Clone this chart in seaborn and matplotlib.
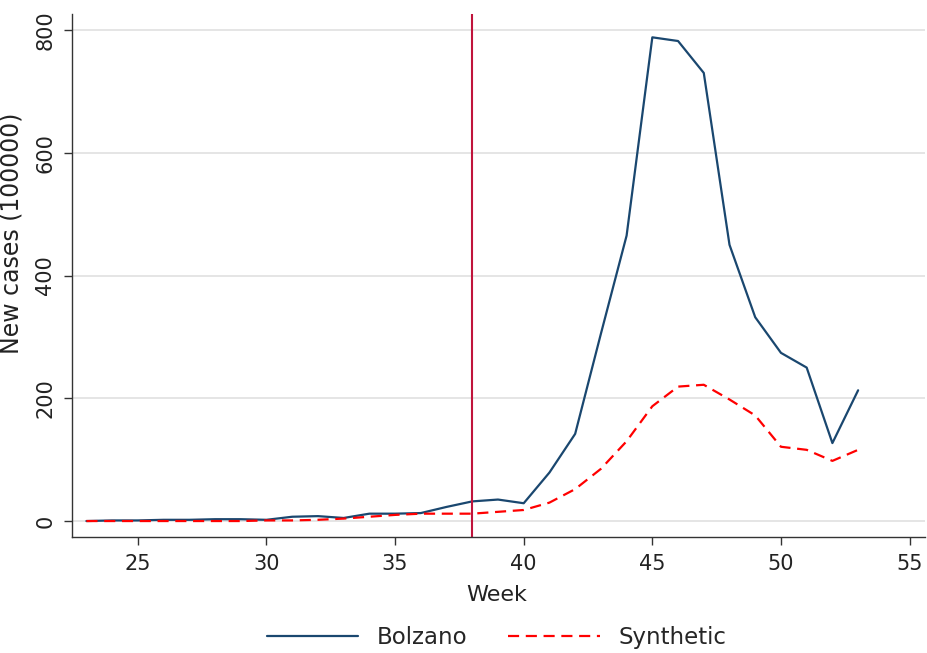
import matplotlib
matplotlib.use("Agg")
import matplotlib.pyplot as plt
import seaborn as sns
import pandas as pd
from matplotlib.lines import Line2D

weeks = list(range(23, 54))
bolzano = [0, 1, 1, 2, 2, 3, 3, 2, 7, 8, 5, 12, 12, 13, 23, 32, 35, 29,
           79, 142, 305, 465, 788, 782, 730, 450, 332, 274, 250, 127, 213]
synthetic = [0, 0, 0, 0, 0, 0, 0, 1, 1, 2, 4, 7, 10, 12, 12, 12, 15, 18,
             30, 52, 85, 130, 187, 219, 222, 198, 172, 121, 116, 98, 116]
treat_week = 38

df = pd.DataFrame({"Week": weeks * 2,
                   "value": bolzano + synthetic,
                   "series": ["Bolzano"] * len(weeks) + ["Synthetic"] * len(weeks)})

sns.set_theme(style="white")
plt.rcParams['font.family'] = ['DejaVu Sans']

fig = plt.figure(figsize=(9.28, 6.53), dpi=100)
ax = fig.add_axes([72/928, 1 - 537/653, (925-72)/928, (537-14)/653])

sns.lineplot(data=df, x="Week", y="value", hue="series", style="series",
             palette={"Bolzano": "#1a476f", "Synthetic": "#ff0000"},
             dashes={"Bolzano": "", "Synthetic": (5, 3)},
             linewidth=1.6, ax=ax, legend=False)
ax.axvline(treat_week, color="#c0143c", linewidth=1.5)

ax.set_xlim(22.44, 55.6)
ax.set_ylim(-26, 826)
ax.set_xticks([25, 30, 35, 40, 45, 50, 55])
ax.set_yticks([0, 200, 400, 600, 800])
ax.yaxis.grid(True, color="#e0e0e0", linewidth=1.2)
ax.set_axisbelow(True)
for s in ["top", "right"]:
    ax.spines[s].set_visible(False)
for s in ["left", "bottom"]:
    ax.spines[s].set_color("#333333")
    ax.spines[s].set_linewidth(1.0)
ax.tick_params(axis="both", which="both", direction="out", length=6, width=1,
               color="#333333", labelsize=15, labelcolor="#222222", left=True, bottom=True,
               pad=6)
for lbl in ax.get_yticklabels():
    lbl.set_rotation(90)
    lbl.set_va("center")
ax.set_xlabel("Week", fontsize=16, color="#222222")
ax.xaxis.set_label_coords(0.498, -0.092)
ax.set_ylabel("New cases (100000)", fontsize=17, color="#222222")
ax.yaxis.set_label_coords(-0.057, 0.58)

handles = [Line2D([], [], color="#1a476f", lw=1.6),
           Line2D([], [], color="#ff0000", lw=1.6, dashes=(5, 3))]
fig.legend(handles, ["Bolzano", "Synthetic"], loc="center", bbox_to_anchor=(0.535, 0.023),
           ncol=2, frameon=False, fontsize=16.5, handlelength=4.0, columnspacing=1.8,
           handletextpad=0.8)

fig.savefig("out.png", dpi=100)
